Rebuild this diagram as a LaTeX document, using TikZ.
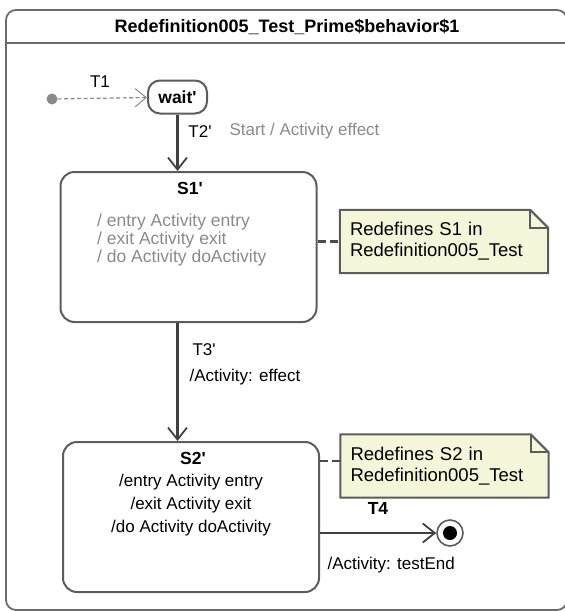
\documentclass[tikz,border=0pt]{standalone}
\usepackage{fontspec}
\setmainfont{Liberation Sans}
\usetikzlibrary{arrows.meta,positioning,backgrounds}
\definecolor{notefill}{HTML}{F5F5DA}
\definecolor{edgegray}{HTML}{5C5C5C}
\definecolor{labelgray}{HTML}{8A8A8A}
\newcommand{\prm}{\textquotesingle}

\begin{document}
\begin{tikzpicture}[
    x=1pt, y=-1pt,
    every node/.style={font=\fontsize{17}{21}\selectfont},
    state/.style={rectangle, draw=edgegray, line width=2pt, rounded corners=14pt, minimum width=256pt, minimum height=150pt},
    heading/.style={font=\fontsize{17.5}{21}\selectfont\bfseries},
    note/.style={text width=188pt, inner xsep=10pt, minimum height=63pt, align=left, font=\fontsize{18.5}{21}\selectfont},
    arrow/.style={draw=edgegray!70!black, line width=2.2pt, -{Straight Barb[length=12pt, width=19pt, line width=1.8pt]}},
    link/.style={draw=edgegray!80!black, line width=2.6pt, dash pattern=on 8pt off 4pt}
]
\useasboundingbox (0,0) rectangle (565,611);

% frame of the state machine
\node[draw=edgegray!90, line width=1.8pt, rounded corners=10pt, minimum width=561pt, minimum height=600pt] (machine) at (286.5,310) {};
\node[heading, font=\fontsize{18}{21}\selectfont\bfseries] (name) at (287,27) {Redefinition005\_Test\_Prime\$behavior\$1};
\draw[draw=edgegray!90, line width=1.8pt] (machine.west |- 0,43) -- (machine.east |- 0,43);

% states
\node[circle, fill=labelgray, minimum size=11pt, inner sep=0pt] (init) at (52,99) {};
\node[rectangle, draw=edgegray, line width=2pt, rounded corners=12pt, minimum width=59pt, minimum height=33pt, heading] (wait) at (177.5,97) {wait\prm};
\node[state] (s1) at (188.5,247) {};
\node[heading] (s1name) at (190,188) {S1\prm};
\node[align=left, inner sep=0pt, text=labelgray, font=\fontsize{17.5}{18}\selectfont, anchor=west] (s1body) at (97,240) {/ entry Activity entry\\/ exit Activity exit\\/ do Activity doActivity};
\node[state] (s2) at (191,517) {};
\node[heading] (s2name) at (193,458) {S2\prm};
\node[align=center, inner sep=0pt, font=\fontsize{17}{23}\selectfont] (s2body) at (191,505) {/entry Activity entry\\/exit Activity exit\\/do Activity doActivity};
\node[circle, draw=edgegray, line width=1.6pt, minimum size=26pt, inner sep=0pt] (final) at (450,533) {};
\fill (final.center) circle (7pt);

% notes
\node[note] (note1) at (444,241.5) {Redefines S1 in\\Redefinition005\_Test};
\node[note] (note2) at (444.5,466) {Redefines S2 in\\Redefinition005\_Test};
\begin{pgfonlayer}{background}
\foreach \n in {note1,note2}{
  \draw[draw=edgegray, line width=2pt, fill=notefill] (\n.north west) -- ([xshift=-18pt]\n.north east) -- ([yshift=-18pt]\n.north east) -- (\n.south east) -- (\n.south west) -- cycle;
  \draw[draw=edgegray, line width=2pt] ([xshift=-18pt]\n.north east) |- ([yshift=-18pt]\n.north east);
}
\end{pgfonlayer}
\draw[link] (s1.east |- note1) -- (note1.west);
\draw[link] (s2.east |- 0,461) -- (note2.west |- 0,461);

% transitions
\draw[labelgray, line width=1.2pt, dash pattern=on 4pt off 2.5pt, -{Straight Barb[length=11pt, width=18pt, line width=1pt]}] (init) -- (wait);
\node (t1) at (100,82) {T1};
\draw[arrow] (wait.south) -- (wait.south |- s1.north);
\node (t2) at (200,132) {T2\prm};
\node[anchor=west, text=labelgray] (t2eff) at (226,131) {Start / Activity effect};
\draw[arrow] (s1.south -| wait) -- (s2.north -| wait);
\node[anchor=west] (t3) at (189,350) {T3\prm};
\node[anchor=west] (t3eff) at (186,377) {/Activity: effect};
\draw[arrow] (s2.east |- final) -- (final);
\node[heading] (t4) at (378,508) {T4};
\node[anchor=west] (t4eff) at (324,565) {/Activity: testEnd};
\end{tikzpicture}
\end{document}
